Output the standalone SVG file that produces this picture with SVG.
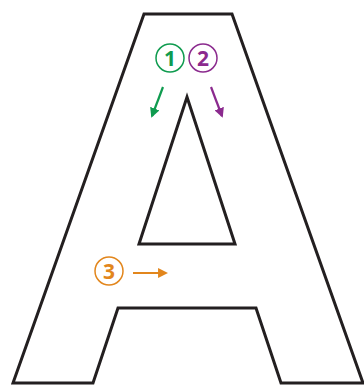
<svg xmlns="http://www.w3.org/2000/svg" width="364" height="386" viewBox="0 0 364 386">
<defs>
<style>
.a{fill:none;stroke:#231f20;stroke-width:3;stroke-linejoin:miter}
.c{fill:none;stroke-width:1.5}
.t{font-family:"Open Sans","Liberation Sans",sans-serif;font-weight:bold;font-size:21px;text-anchor:middle}
.ar{stroke-width:2.2;fill:none}
</style>
<marker id="mg" viewBox="0 0 10 10" refX="8" refY="5" markerWidth="4.5" markerHeight="4.5" orient="auto" markerUnits="strokeWidth"><path d="M0,0L10,5L0,10z" fill="#0f9b4f"/></marker>
<marker id="mp" viewBox="0 0 10 10" refX="8" refY="5" markerWidth="4.5" markerHeight="4.5" orient="auto" markerUnits="strokeWidth"><path d="M0,0L10,5L0,10z" fill="#8b2a8e"/></marker>
<marker id="mo" viewBox="0 0 10 10" refX="8" refY="5" markerWidth="4.5" markerHeight="4.5" orient="auto" markerUnits="strokeWidth"><path d="M0,0L10,5L0,10z" fill="#e2861c"/></marker>
</defs>
<g id="letterA">
<path class="a" d="M144,14 L232,14 L363,383 L281,383 L256,308 L118,308 L93,383 L13,383 Z"/>
<path class="a" d="M187,97 L235,244 L139,244 Z"/>
</g>
<g id="label1">
<circle class="c" cx="170" cy="58" r="14" stroke="#0f9b4f"/>
<text class="t" x="170" y="65.5" fill="#0f9b4f">1</text>
</g>
<g id="label2">
<circle class="c" cx="203" cy="58" r="14" stroke="#8b2a8e"/>
<text class="t" x="203" y="65.5" fill="#8b2a8e">2</text>
</g>
<g id="label3">
<circle class="c" cx="109" cy="271" r="14" stroke="#e2861c"/>
<text class="t" x="109" y="278.5" fill="#e2861c">3</text>
</g>
<g id="connectors">
<line class="ar" x1="163" y1="87" x2="152" y2="116" stroke="#0f9b4f" marker-end="url(#mg)"/>
<line class="ar" x1="211" y1="87" x2="222" y2="116" stroke="#8b2a8e" marker-end="url(#mp)"/>
<line class="ar" x1="133" y1="273" x2="166" y2="273" stroke="#e2861c" marker-end="url(#mo)"/>
</g>
</svg>
